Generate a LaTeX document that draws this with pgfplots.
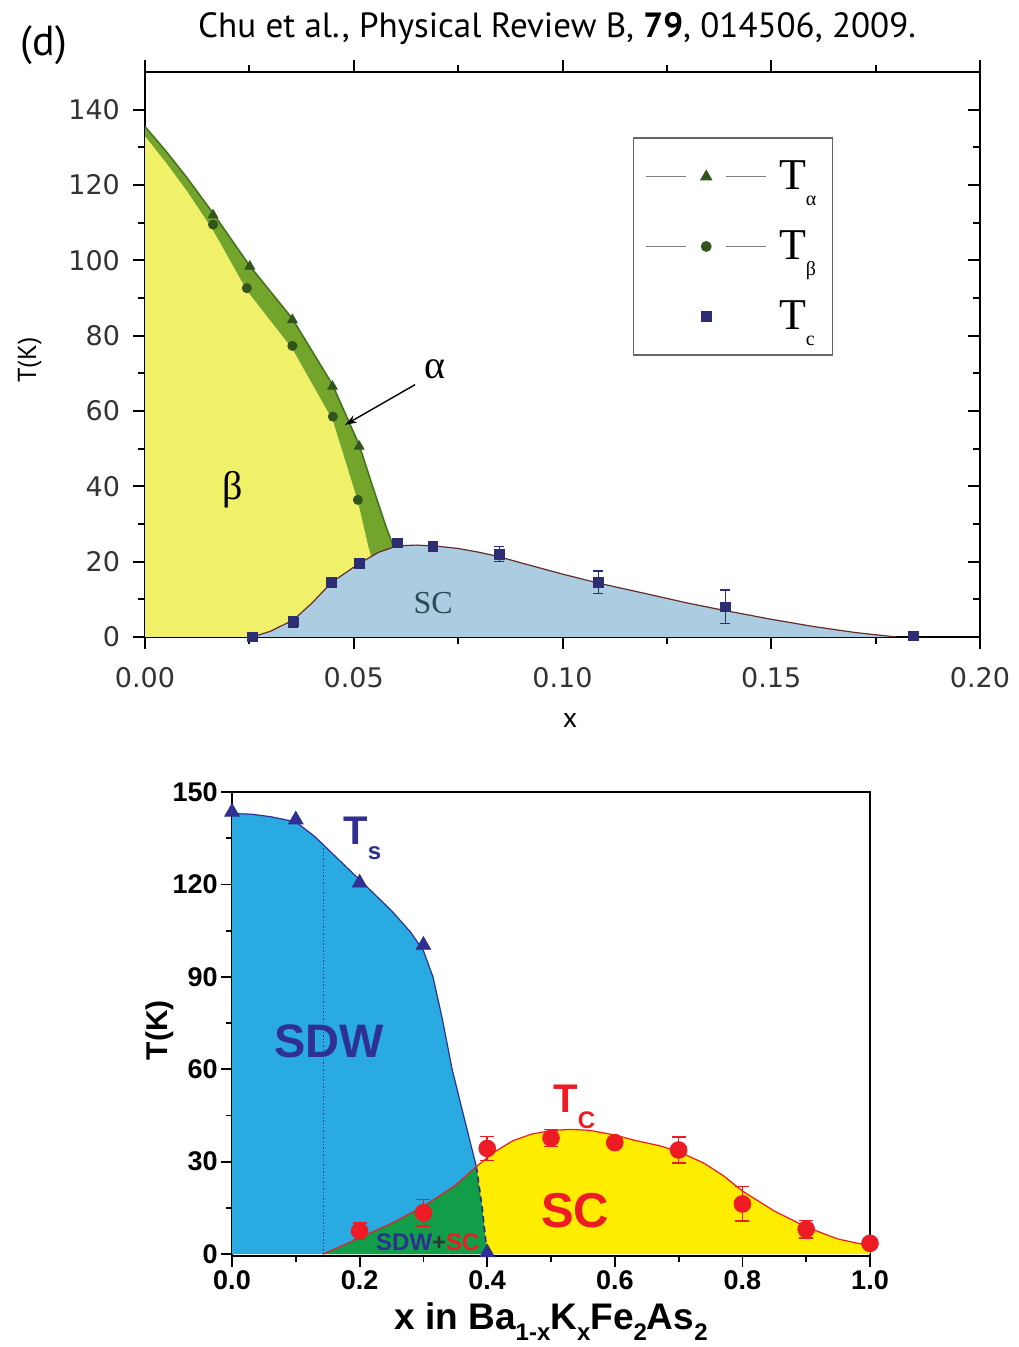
\documentclass[border=0pt]{standalone}
\usepackage{fontspec}
\usepackage{pgfplots}
\pgfplotsset{compat=1.18}
\usetikzlibrary{arrows.meta}
\newfontfamily\ptsans{PT Sans}
\newfontfamily\dejavu{DejaVu Sans}
\newfontfamily\arial{Liberation Sans}
\newfontfamily\tnr{Liberation Serif}
\definecolor{tyellow}{RGB}{240,240,105}
\definecolor{tgreen}{RGB}{115,165,45}
\definecolor{tgreendark}{RGB}{70,115,30}
\definecolor{tblue}{RGB}{172,205,225}
\definecolor{tline}{RGB}{100,45,40}
\definecolor{tnavy}{RGB}{45,45,115}
\definecolor{tmark}{RGB}{50,85,30}
\definecolor{tsc}{RGB}{45,75,85}
\definecolor{bblue}{RGB}{41,171,226}
\definecolor{bgreen}{RGB}{18,158,72}
\definecolor{byellow}{RGB}{255,237,0}
\definecolor{bred}{RGB}{237,28,36}
\definecolor{bnavy}{RGB}{46,49,146}
\newcommand{\bsub}[1]{\raisebox{-5.5pt}{\fontsize{12}{12}\selectfont #1}}
\newcommand{\lsub}[1]{\raisebox{-8pt}{\fontsize{10}{10}\selectfont #1}}
\begin{document}
\begin{tikzpicture}
\path[use as bounding box] (0pt,0pt) rectangle (509pt,673.5pt);
\node[font=\ptsans\fontsize{17.5}{17.5}\selectfont] at (278.5pt,659pt) {Chu et al., Physical Review B, \textbf{79}, 014506, 2009.};
\node[font=\ptsans\fontsize{21}{21}\selectfont] at (22pt,651pt) {(d)};

% ---------------- top panel ----------------
\begin{axis}[
  at={(72.5pt,355pt)}, anchor=south west, scale only axis,
  width=417.5pt, height=282.5pt,
  xmin=0, xmax=0.2, ymin=0, ymax=150,
  xtick={0,0.05,0.1,0.15,0.2}, minor x tick num=1,
  ytick={0,20,40,60,80,100,120,140}, minor y tick num=1,
  scaled x ticks=false,
  tick align=outside, xtick pos=both, ytick pos=left,
  major tick length=6pt, minor tick length=3.5pt,
  axis line style={line width=1.4pt},
  every tick/.style={black, line width=1pt},
  /pgf/number format/assume math mode=true,
  tick label style={font=\dejavu\fontsize{13.5}{13.5}\selectfont, text=black!80},
  xticklabel style={/pgf/number format/fixed, /pgf/number format/fixed zerofill, /pgf/number format/precision=2, yshift=-5.5pt},
  yticklabel style={xshift=-3pt},
  xlabel={x}, ylabel={T(K)},
  xlabel style={font=\ptsans\fontsize{14}{14}\selectfont, at={(axis description cs:0.509,-0.147)}, anchor=center},
  ylabel style={font=\ptsans\fontsize{13}{13}\selectfont, at={(axis description cs:-0.138,0.49)}, anchor=center},
  legend style={at={(0.584,0.885)}, anchor=north west, draw=black!60, line width=0.8pt, fill=white,
    inner xsep=6pt, inner ysep=9.5pt, row sep=15pt, column sep=4pt,
    font=\tnr\fontsize{22}{22}\selectfont},
  legend cell align=left,
]
% beta (yellow) region
\addplot[fill=tyellow, draw=none, forget plot] coordinates {
 (0,0) (0,133) (0.005,126) (0.01,118.5) (0.0163,108) (0.0244,92) (0.0353,76.5)
 (0.045,57.5) (0.051,36) (0.0535,24) (0.055,18)
 (0.062,18) (0.062,0)} -- cycle;
% alpha (green) band
\addplot[fill=tgreen, draw=none, forget plot] coordinates {
 (0,135.5) (0.005,129) (0.01,122) (0.0163,112.5) (0.0251,98.5) (0.0353,84.5) (0.0449,67)
 (0.0513,51) (0.0545,40) (0.0575,30) (0.0595,24) (0.061,18)
 (0.055,18) (0.0535,24) (0.051,36) (0.045,57.5) (0.0353,76.5) (0.0244,92) (0.0163,108)
 (0.01,118.5) (0.005,126) (0,133)} -- cycle;
\addplot[tgreendark, line width=0.8pt, forget plot] coordinates {
 (0,135.5) (0.005,129) (0.01,122) (0.0163,112.5) (0.0251,98.5) (0.0353,84.5) (0.0449,67)
 (0.0513,51) (0.0545,40) (0.0575,30) (0.0595,24)};
% SC dome
\addplot[fill=tblue, draw=none, forget plot] coordinates {
 (0.0257,0) (0.03,1.5) (0.0355,4.5) (0.04,9) (0.0447,14.5) (0.0513,19.5) (0.056,22.5)
 (0.0605,24.2) (0.065,24.4) (0.07,24.1) (0.075,23.5) (0.08,22.5) (0.0849,21.3) (0.09,19.7)
 (0.1,16.7) (0.1086,14.3) (0.12,11.5) (0.13,9) (0.139,7) (0.15,4.7) (0.16,2.8) (0.17,1.2) (0.18,0)} -- cycle;
\addplot[tline, line width=0.6pt, forget plot] coordinates {
 (0.0257,0) (0.03,1.5) (0.0355,4.5) (0.04,9) (0.0447,14.5) (0.0513,19.5) (0.056,22.5)
 (0.0605,24.2) (0.065,24.4) (0.07,24.1) (0.075,23.5) (0.08,22.5) (0.0849,21.3) (0.09,19.7)
 (0.1,16.7) (0.1086,14.3) (0.12,11.5) (0.13,9) (0.139,7) (0.15,4.7) (0.16,2.8) (0.17,1.2) (0.18,0)};
% markers
\addplot[only marks, mark=triangle*, mark size=2.8pt, color=tmark,
  legend image code/.code={\draw[black!50, line width=0.5pt] (0pt,0pt)--(20pt,0pt) (40pt,0pt)--(60pt,0pt);
    \draw[tmark, fill=tmark, mark=triangle*, mark size=2.8pt, only marks] plot coordinates {(30pt,0pt)};}]
 coordinates {(0.0163,112) (0.0251,98.4) (0.0353,84.2) (0.0449,66.5) (0.0513,50.6)};
\addlegendentry{T\lsub{α}}
\addplot[only marks, mark=*, mark size=2.3pt, color=tmark,
  legend image code/.code={\draw[black!50, line width=0.5pt] (0pt,0pt)--(20pt,0pt) (40pt,0pt)--(60pt,0pt);
    \draw[tmark, fill=tmark, mark=*, mark size=2.3pt, only marks] plot coordinates {(30pt,0pt)};}]
 coordinates {(0.0163,109.5) (0.0244,92.6) (0.0353,77.3) (0.045,58.5) (0.051,36.4)};
\addlegendentry{T\lsub{β}}
\addplot[only marks, mark=square*, mark size=2.4pt, color=tnavy,
  legend image code/.code={\path (0pt,0pt) (60pt,0pt);
    \draw[tnavy, fill=tnavy, mark=square*, mark size=2.4pt, only marks] plot coordinates {(30pt,0pt)};},
  error bars/.cd, y dir=both, y explicit,
  error bar style={line width=0.6pt, tnavy},
  error mark options={rotate=90, mark size=2.5pt, tnavy, line width=0.6pt}]
 coordinates {(0.0257,0) +- (0,0.5) (0.0355,4) +- (0,1.5) (0.0447,14.5) +- (0,1.2)
  (0.0513,19.5) +- (0,1) (0.0605,25) +- (0,0.8) (0.069,24) +- (0,0.8) (0.0849,22) +- (0,2)
  (0.1086,14.5) +- (0,3) (0.139,8) +- (0,4.5) (0.184,0.3) +- (0,0.5)};
\addlegendentry{T\lsub{c}\rule[-14pt]{0pt}{0pt}}
\node[font=\tnr\fontsize{20}{20}\selectfont] at (axis cs:0.0211,39) {β};
\node[font=\tnr\fontsize{20}{20}\selectfont] at (axis cs:0.0695,71) {α};
\node[font=\tnr\fontsize{16}{16}\selectfont, text=tsc] at (axis cs:0.069,9) {SC};
\draw[-{Stealth[length=6pt,width=4pt]}, line width=0.7pt] (axis cs:0.0647,67) -- (axis cs:0.0479,56.3);
\end{axis}
% right-side inward ticks of the top panel
\begin{axis}[
  at={(72.5pt,355pt)}, anchor=south west, scale only axis,
  width=417.5pt, height=282.5pt,
  xmin=0, xmax=0.2, ymin=0, ymax=150,
  xtick=\empty, ytick={0,20,40,60,80,100,120,140}, minor y tick num=1,
  ytick pos=right, tick align=inside, yticklabels={},
  major tick length=6pt, minor tick length=3.5pt,
  axis line style={draw=none},
  every tick/.style={black, line width=1pt},
]
\end{axis}

% ---------------- bottom panel ----------------
\begin{axis}[
  at={(116pt,45.5pt)}, anchor=south west, scale only axis,
  width=319pt, height=232pt,
  xmin=0, xmax=1, ymin=-0.6, ymax=150,
  xtick={0,0.2,0.4,0.6,0.8,1}, minor x tick num=1,
  ytick={0,30,60,90,120,150}, minor y tick num=1,
  tick align=outside, tick pos=left,
  major tick length=5.5pt, minor tick length=3pt,
  axis line style={line width=0.9pt},
  every tick/.style={black, line width=0.9pt},
  /pgf/number format/assume math mode=true,
  tick label style={font=\arial\bfseries\fontsize{13.5}{13.5}\selectfont},
  xticklabel style={/pgf/number format/fixed, /pgf/number format/fixed zerofill, /pgf/number format/precision=1, inner sep=1.5pt},
  yticklabel style={inner sep=1.5pt},
  xlabel={x in Ba\bsub{1-x}K\bsub{x}Fe\bsub{2}As\bsub{2}},
  ylabel={T(K)},
  xlabel style={font=\arial\bfseries\fontsize{18.5}{18.5}\selectfont, at={(axis description cs:0.5,-0.159)}, anchor=base},
  ylabel style={font=\arial\bfseries\fontsize{15}{15}\selectfont, at={(axis description cs:-0.113,0.487)}, anchor=center},
]
\addplot[fill=byellow, draw=none] coordinates {
 (0.142,0) (0.17,2.5) (0.2,5.3) (0.25,10) (0.3,15.5) (0.35,22.3) (0.383,28.4) (0.41,33)
 (0.44,36.8) (0.47,39) (0.5,40.1) (0.53,40.5) (0.56,40.2) (0.6,38.7) (0.63,37) (0.67,35.2)
 (0.7,33.3) (0.74,29.5) (0.77,25.5) (0.8,20.5) (0.85,14) (0.9,8.8) (0.95,4.9) (1.0,2.7) (1.0,0)} -- cycle;
\addplot[fill=bblue, draw=none] coordinates {
 (0,0) (0,143) (0.03,142.8) (0.06,142) (0.1,140.3) (0.13,135.5) (0.16,129.5) (0.2,121.5)
 (0.25,111.5) (0.28,104.5) (0.3,98.5) (0.315,90) (0.33,76) (0.345,60) (0.36,47.5)
 (0.372,37.5) (0.383,28.4) (0.392,15) (0.4,0)} -- cycle;
\addplot[fill=bgreen, draw=none] coordinates {
 (0.142,0) (0.17,2.5) (0.2,5.3) (0.25,10) (0.3,15.5) (0.35,22.3) (0.383,28.4) (0.392,15) (0.4,0)} -- cycle;
\addplot[bnavy, line width=0.6pt] coordinates {
 (0,143) (0.03,142.8) (0.06,142) (0.1,140.3) (0.13,135.5) (0.16,129.5) (0.2,121.5)
 (0.25,111.5) (0.28,104.5) (0.3,98.5) (0.315,90) (0.33,76) (0.345,60) (0.36,47.5)
 (0.372,37.5) (0.383,28.4)};
\addplot[bnavy, line width=0.9pt, densely dashed] coordinates {(0.383,28.4) (0.392,15) (0.4,0)};
\addplot[bred, line width=0.6pt] coordinates {
 (0.142,0) (0.17,2.5) (0.2,5.3) (0.25,10) (0.3,15.5) (0.35,22.3) (0.383,28.4) (0.41,33)
 (0.44,36.8) (0.47,39) (0.5,40.1) (0.53,40.5) (0.56,40.2) (0.6,38.7) (0.63,37) (0.67,35.2)
 (0.7,33.3) (0.74,29.5) (0.77,25.5) (0.8,20.5) (0.85,14) (0.9,8.8) (0.95,4.9) (1.0,2.7)};
\addplot[bnavy, densely dotted, line width=0.7pt] coordinates {(0.143,0) (0.143,133)};
\addplot[only marks, mark=triangle*, mark size=4.2pt, color=bnavy]
 coordinates {(0,143.5) (0.1,141) (0.2,120.5) (0.3,100.3) (0.4,0.5)};
\addplot[only marks, mark=*, mark size=4.2pt, color=bred,
  error bars/.cd, y dir=both, y explicit,
  error bar style={line width=0.8pt, bred},
  error mark options={rotate=90, mark size=3.5pt, bred, line width=0.8pt}]
 coordinates {(0.2,7.5) +- (0,2.7) (0.3,13.4) +- (0,4.3) (0.4,34.3) +- (0,3.9)
  (0.5,37.7) +- (0,2.8) (0.6,36.2) +- (0,1.5) (0.7,33.8) +- (0,4.3) (0.8,16.3) +- (0,5.6)
  (0.9,8.1) +- (0,2.8) (1.0,3.5) +- (0,1)};
\node[anchor=base west, text=bnavy, font=\arial\bfseries\fontsize{20}{20}\selectfont, inner sep=0pt]
  at (axis cs:0.174,132.8) {T\raisebox{-7.5pt}{\fontsize{12}{12}\selectfont s}};
\node[anchor=base west, text=bred, font=\arial\bfseries\fontsize{20}{20}\selectfont, inner sep=0pt]
  at (axis cs:0.503,46.1) {T\raisebox{-8pt}{\fontsize{12}{12}\selectfont C}};
\node[text=bnavy, font=\arial\bfseries\fontsize{23.5}{23.5}\selectfont] at (axis cs:0.152,69.2) {SDW};
\node[text=bred, font=\arial\bfseries\fontsize{24.5}{24.5}\selectfont] at (axis cs:0.538,14.1) {SC};
\node[font=\arial\bfseries\fontsize{12}{12}\selectfont] at (axis cs:0.307,3.9)
  {\textcolor{bnavy}{SDW}\textcolor{black!80}{+}\textcolor{bred}{SC}};
\end{axis}
\end{tikzpicture}
\end{document}
